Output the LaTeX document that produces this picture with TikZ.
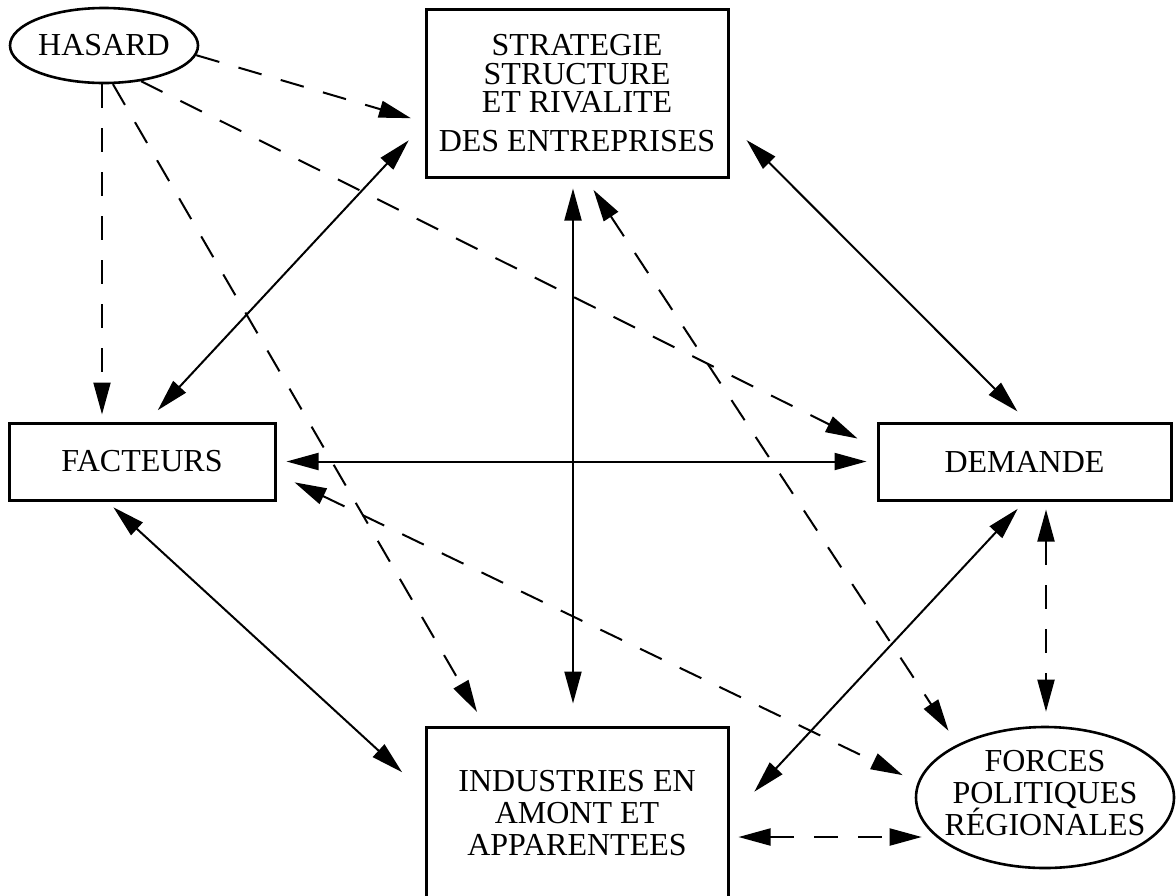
\documentclass[tikz,border=0pt]{standalone}
\usepackage{fontspec}
\setmainfont{Liberation Serif}
\usetikzlibrary{arrows.meta, shapes.geometric, calc}
\lineskiplimit=-20pt

\begin{document}
\begin{tikzpicture}[
        x=0.5pt, y=-0.5pt,
        box/.style={rectangle, draw, line width=1.5pt, align=center, inner sep=0pt, font=\fontsize{16}{16}\selectfont},
        oval/.style={ellipse, draw, line width=1.3pt, align=center, inner xsep=-10pt, inner ysep=0pt, font=\fontsize{16}{16}\selectfont},
        arr/.style={{Triangle[length=16pt, width=8.5pt]}-{Triangle[length=16pt, width=8.5pt]}, line width=1pt, shorten <=5pt, shorten >=5pt},
        darr/.style={arr, dash pattern=on 12pt off 10pt},
        harr/.style={-{Triangle[length=16pt, width=8.5pt]}, line width=1pt, dash pattern=on 12pt off 10pt, shorten >=5pt}
        ]
        \useasboundingbox (0,0) rectangle (1176,895);
        \node[oval, minimum width=94pt, minimum height=37.5pt] (hasard) at (104,45.5) {HASARD};
        \node[box, minimum width=151pt, minimum height=84pt, font=\fontsize{16}{14.2}\selectfont] (strat) at (577,93) {STRATEGIE\\STRUCTURE\\ET RIVALITE\\[5pt]DES ENTREPRISES};
        \node[box, minimum width=133pt, minimum height=38.5pt] (fact) at (142,461.5) {FACTEURS};
        \node[box, minimum width=146.5pt, minimum height=38.5pt] (dem) at (1024.5,461.5) {DEMANDE};
        \node[box, minimum width=151pt, minimum height=86pt] (ind) at (577,813) {INDUSTRIES EN\\AMONT ET\\APPARENTEES};
        \node[oval, minimum width=129pt, minimum height=70.5pt] (forces) at (1045,797.5) {FORCES\\POLITIQUES\\RÉGIONALES\rule[-5pt]{0pt}{5pt}};
        \draw[arr] ($(fact.north)+(9,-4)$) -- ($(strat.west)+(-9,40)$);
        \draw[arr] ($(strat.east)+(10,40)$) -- ($(dem.north)+(0,-3)$);
        \draw[arr] (fact.east) -- (dem.west);
        \draw[arr] ($(strat.south)+(-4,0)$) -- ($(ind.north)+(-4,-12)$);
        \draw[arr] ($(fact.south)+(-36,-1)$) -- ($(ind.west)+(-15,-34)$);
        \draw[arr] (dem.south) -- ($(ind.east)+(18,-14)$);
        \draw[harr] (hasard.-6) -- ($(strat.west)+(-4,28)$);
        \draw[harr] ($(hasard.south)+(-2,0)$) -- ($(fact.north)+(-40,3)$);
        \draw[harr] (hasard.-77) -- ($(ind.north)+(-95,-5)$);
        \draw[harr] (hasard.-44) -- ($(dem.west)+(-10,-18.5)$);
        \draw[darr] ($(fact.east)+(9,16.5)$) -- ($(forces.west)+(-3,-18)$);
        \draw[darr] ($(strat.south)+(11,3)$) -- ($(forces.north)+(-91,13.5)$);
        \draw[darr] ($(dem.south)+(21.5,-2)$) -- ($(forces.north)+(1,-4)$);
        \draw[darr] ($(ind.east)+(-1,24)$) -- ($(forces.west)+(17,39.5)$);
    \end{tikzpicture}
\end{document}
